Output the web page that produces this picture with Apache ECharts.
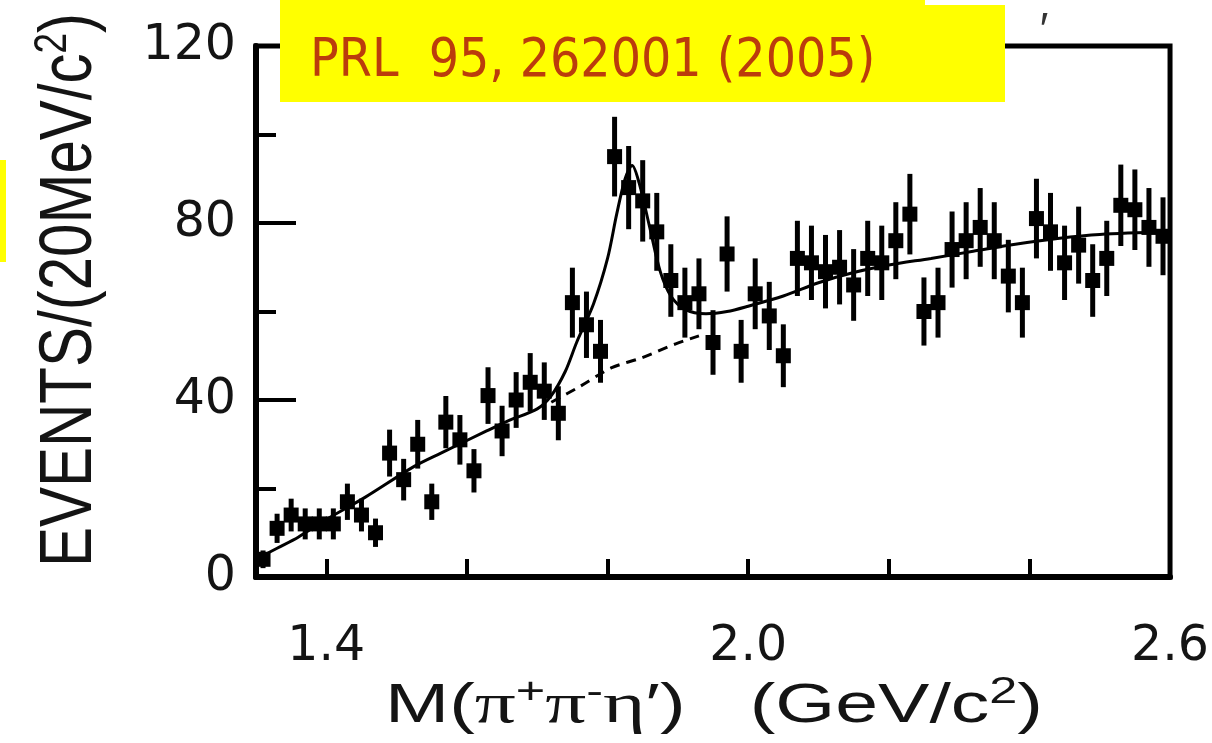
<!DOCTYPE html>
<html><head><meta charset="utf-8">
<script src="https://cdn.jsdelivr.net/npm/echarts@6/dist/echarts.min.js"></script>
<style>html,body{margin:0;padding:0;background:#fff}#c{width:1212px;height:743px}</style>
</head><body><div id="c"></div>
<script>
// bin centres (GeV/c^2), 20 MeV bins
const massBins = [
  1.31,1.33,1.35,1.37,1.39,1.41,1.43,1.45,1.47,1.49,
  1.51,1.53,1.55,1.57,1.59,1.61,1.63,1.65,1.67,1.69,
  1.71,1.73,1.75,1.77,1.79,1.81,1.83,1.85,1.87,1.89,
  1.91,1.93,1.95,1.97,1.99,2.01,2.03,2.05,2.07,2.09,
  2.11,2.13,2.15,2.17,2.19,2.21,2.23,2.25,2.27,2.29,
  2.31,2.33,2.35,2.37,2.39,2.41,2.43,2.45,2.47,2.49,
  2.51,2.53,2.55,2.57,2.59];
const events = [
  4,11,14,12,12,12,17,14,10,28,
  22,30,17,35,31,24,41,33,40,44,
  42,37,62,57,51,95,88,85,78,67,
  62,64,53,73,51,64,59,50,72,71,
  69,70,66,72,71,76,82,60,62,74,
  76,79,76,68,62,81,78,71,75,67,
  72,84,83,79,77];
const errors = [
  2.0,3.3,3.7,3.5,3.5,3.5,4.1,3.7,3.2,5.3,
  4.7,5.5,4.1,5.9,5.6,4.9,6.4,5.7,6.3,6.6,
  6.5,6.1,7.9,7.5,7.1,9.0,9.4,9.2,8.8,8.2,
  7.9,8.0,7.3,8.5,7.1,8.0,7.7,7.1,8.5,8.4,
  8.3,8.4,8.1,8.5,8.4,8.7,9.1,7.7,7.9,8.6,
  8.7,8.9,8.7,8.2,7.9,9.0,8.8,8.4,8.7,8.2,
  8.5,9.2,9.1,8.9,8.8];
// full fit (solid)
const fitMass = [1.30,1.33,1.36,1.40,1.455,1.525,1.563,1.628,1.66,1.70,1.72,1.74,1.756,1.78,1.80,1.813,1.825,1.835,1.845,1.86,1.875,1.89,1.91,1.94,1.97,2.00,2.05,2.10,2.15,2.20,2.26,2.32,2.38,2.44,2.50,2.60];
const fitEvents = [4,6.5,9,13,18,25,28,33,35.4,38,41,46.5,53,61.7,72,82,90,93,89,79,69,63.5,60.5,59.5,60,61.2,63.5,66.5,68.8,70.5,72,73.6,75.2,76.5,77.4,78];
// background (dashed)
const bkgMass = [1.72,1.76,1.806,1.848,1.897,1.93];
const bkgEvents = [39.5,43,47.3,49.5,52.7,54.5];
// axis ticks / labels
const xTickValues = [1.4,1.6,1.8,2.0,2.2,2.4];
const xLabelValues = [1.4,2.0,2.6];

const pts = massBins.map((m,i)=>[m, events[i], errors[i]]);
const chart = echarts.init(document.getElementById('c'), null, {renderer:'canvas'});
const tickFont = '"DejaVu Sans", "Liberation Sans", Arial, sans-serif';
chart.setOption({
  animation:false,
  backgroundColor:'#fff',
  grid:{left:256, right:38, top:46, bottom:166, show:true, borderColor:'#000', borderWidth:5, backgroundColor:'transparent'},
  xAxis:{type:'value', min:1.3, max:2.6,
    axisLine:{show:true, lineStyle:{color:'#000', width:6}},
    axisTick:{show:true, inside:true, length:18, lineStyle:{color:'#000', width:4}, customValues:xTickValues},
    axisLabel:{show:true, customValues:xLabelValues, margin:46, fontSize:49, fontFamily:tickFont, color:'#141414',
      formatter:v=>v.toFixed(1)},
    splitLine:{show:false}},
  yAxis:{type:'value', min:0, max:120, interval:40,
    axisLine:{show:true, lineStyle:{color:'#000', width:6}},
    axisTick:{show:true, inside:true, length:40, lineStyle:{color:'#000', width:4}},
    minorTick:{show:true, splitNumber:2, length:20, lineStyle:{color:'#000', width:4}},
    axisLabel:{margin:20, fontSize:49, fontFamily:tickFont, color:'#141414'},
    splitLine:{show:false}, minorSplitLine:{show:false}},
  series:[
    {type:'line', data:fitMass.map((m,i)=>[m, fitEvents[i]]), smooth:0.3, showSymbol:false, z:2,
      lineStyle:{color:'#000', width:3}},
    {type:'line', data:bkgMass.map((m,i)=>[m, bkgEvents[i]]), smooth:0.3, showSymbol:false, z:2,
      lineStyle:{color:'#000', width:3, type:[10,7]}},
    {type:'custom', data:pts, z:3, clip:true,
      renderItem:function(params, api){
        const x = api.value(0), y = api.value(1), e = api.value(2);
        const c = api.coord([x, y]);
        const lo = api.coord([x, y - e]);
        const hi = api.coord([x, y + e]);
        const s = 15;
        return {type:'group', children:[
          {type:'line', shape:{x1:c[0], y1:lo[1], x2:c[0], y2:hi[1]}, style:{stroke:'#000', lineWidth:5}},
          {type:'rect', shape:{x:c[0]-s/2, y:c[1]-s/2, width:s, height:s}, style:{fill:'#000'}}
        ]};
      }}
  ],
  graphic:[
    {type:'rect', shape:{x:280, y:0, width:725, height:102}, style:{fill:'#ffff00'}, z:10},
    {type:'rect', shape:{x:925, y:0, width:80, height:5}, style:{fill:'#ffffff'}, z:11},
    {type:'rect', shape:{x:0, y:160, width:6, height:102}, style:{fill:'#ffff00'}, z:10},
    {type:'text', x:310, y:62, z:12, style:{text:'PRL  95, 262001 (2005)',
      font:'53px "DejaVu Sans Condensed", "Liberation Sans Narrow", sans-serif', fill:'#bb3c0c', align:'left', verticalAlign:'middle'}},
    {type:'text', x:1044, y:32, z:12, style:{text:'′', font:'46px "Liberation Sans", sans-serif', fill:'#333', align:'center', verticalAlign:'middle'}},
    {type:'text', x:70, y:290, rotation:Math.PI/2, scaleY:1.25, z:12, style:{
      text:'EVENTS/(20MeV/c{sup|2})', font:'60px "Liberation Sans", Arial, sans-serif', fill:'#141414',
      align:'center', verticalAlign:'middle', lineHeight:64,
      rich:{sup:{fontSize:37, fontFamily:'"Liberation Sans", Arial, sans-serif', verticalAlign:'top', lineHeight:64, fill:'#141414'}}}},
    {type:'text', x:714, y:707, scaleX:1.40, z:12, style:{
      text:'M({g|π}{sup|+}{g|π}{sup|-}{g|η}′)   (GeV/c{sup|2})', font:'55px "Liberation Sans", Arial, sans-serif', fill:'#141414',
      align:'center', verticalAlign:'middle', lineHeight:64,
      rich:{sup:{fontSize:36, fontFamily:'"Liberation Sans", Arial, sans-serif', verticalAlign:'top', lineHeight:64, fill:'#141414'},
            g:{fontSize:58, fontFamily:'"Liberation Serif", "DejaVu Serif", serif', lineHeight:64, fill:'#141414'}}}}
  ]
});
</script></body></html>
